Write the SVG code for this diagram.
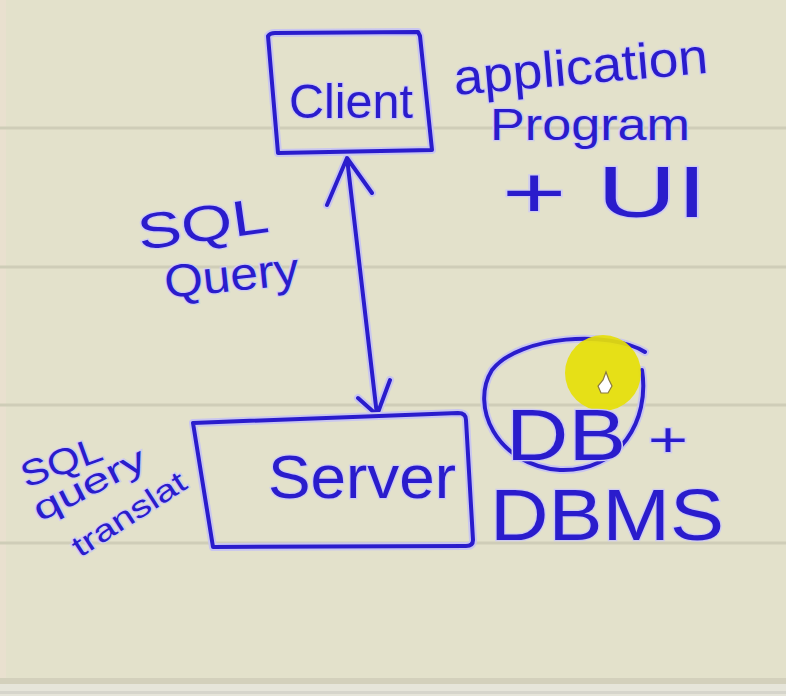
<svg xmlns="http://www.w3.org/2000/svg" width="786" height="696" viewBox="0 0 786 696">
<style>
.ink{fill:none;stroke:#2a1ccc;stroke-width:4;stroke-linecap:round;stroke-linejoin:round}
.halo{fill:none;stroke:#c9c6ef;stroke-width:8;stroke-linecap:round;stroke-linejoin:round}
.t{font-family:"Liberation Sans","DejaVu Sans",sans-serif;fill:#2a1ccc;stroke:#cfccf0;stroke-width:2.5;paint-order:stroke}
.rule{stroke:#cfcdb8;stroke-width:3}
</style>
<rect x="0" y="0" width="786" height="696" fill="#e3e1cb"/>
<rect x="0" y="0" width="6" height="680" fill="#e9e0cf"/>
<g id="paper-lines">
<line class="rule" x1="0" y1="128" x2="786" y2="128"/>
<line class="rule" x1="0" y1="267" x2="786" y2="267"/>
<line class="rule" x1="0" y1="405" x2="786" y2="405"/>
<line class="rule" x1="0" y1="543" x2="786" y2="543"/>
<rect x="0" y="678" width="786" height="6" fill="#d3d0bc"/>
<rect x="0" y="684" width="786" height="12" fill="#e6e5da"/>
<rect x="0" y="691" width="786" height="3" fill="#d6d5cc"/>
</g>
<g id="connectors">
<path class="halo" d="M347 158 L377 415 M327 205 L347 158 L372 193 M358 398 L377 415 L390 380"/>
<path class="ink" d="M347 158 L377 415 M327 205 L347 158 L372 193 M358 398 L377 415 L390 380"/>
</g>
<g id="client">
<path class="halo" d="M268 36 Q270 33 275 33 L418 32 L420 36 L432 150 L278 153 Z"/>
<path class="ink" d="M268 36 Q270 33 275 33 L418 32 L420 36 L432 150 L278 153 Z"/>
<text class="t" x="289" y="118" font-size="48" textLength="124" lengthAdjust="spacingAndGlyphs">Client</text>
</g>
<g id="client-notes">
<text class="t" x="455" y="95" font-size="50" textLength="255" lengthAdjust="spacingAndGlyphs" transform="rotate(-5 455 95)">application</text>
<text class="t" x="490" y="140" font-size="44" textLength="200" lengthAdjust="spacingAndGlyphs">Program</text>
<text class="t" x="502" y="217" font-size="72" textLength="205" lengthAdjust="spacingAndGlyphs">+ UI</text>
</g>
<g id="query-label">
<text class="t" x="140" y="250" font-size="50" textLength="132" lengthAdjust="spacingAndGlyphs" transform="rotate(-8 140 250)">SQL</text>
<text class="t" x="166" y="298" font-size="46" textLength="135" lengthAdjust="spacingAndGlyphs" transform="rotate(-6 166 298)">Query</text>
</g>
<g id="server">
<path class="halo" d="M193 423 L458 413 Q466 413 466 420 L473 540 Q473 546 466 546 L213 547 Z"/>
<path class="ink" d="M193 423 L458 413 Q466 413 466 420 L473 540 Q473 546 466 546 L213 547 Z"/>
<text class="t" x="268" y="498" font-size="62" textLength="188" lengthAdjust="spacingAndGlyphs">Server</text>
</g>
<g id="server-notes">
<text class="t" x="26" y="488" font-size="36" textLength="84" lengthAdjust="spacingAndGlyphs" transform="rotate(-20 26 488)">SQL</text>
<text class="t" x="40" y="522" font-size="34" textLength="122" lengthAdjust="spacingAndGlyphs" transform="rotate(-27 40 522)">query</text>
<text class="t" x="80" y="558" font-size="30" textLength="130" lengthAdjust="spacingAndGlyphs" transform="rotate(-33 80 558)">translat</text>
</g>
<g id="db">
<path class="halo" d="M645 352 C 610 330 520 335 492 370 C 470 405 495 465 560 470 C 620 472 650 420 642 370"/>
<path class="ink" stroke-width="3" d="M645 352 C 610 330 520 335 492 370 C 470 405 495 465 560 470 C 620 472 650 420 642 370"/>
<circle cx="603" cy="373" r="38" fill="#e6df08" opacity="0.92"/>
<text class="t" x="506" y="460" font-size="72" textLength="120" lengthAdjust="spacingAndGlyphs">DB</text>
<text class="t" x="648" y="456" font-size="48" textLength="40" lengthAdjust="spacingAndGlyphs">+</text>
<text class="t" x="490" y="540" font-size="72" textLength="234" lengthAdjust="spacingAndGlyphs">DBMS</text>
<path d="M603 380 L606 372 L609 380 L612 386 L608 393 L601 393 L598 386 Z" fill="#ffffff" stroke="#8a7a40" stroke-width="1.2"/>
</g>
</svg>
